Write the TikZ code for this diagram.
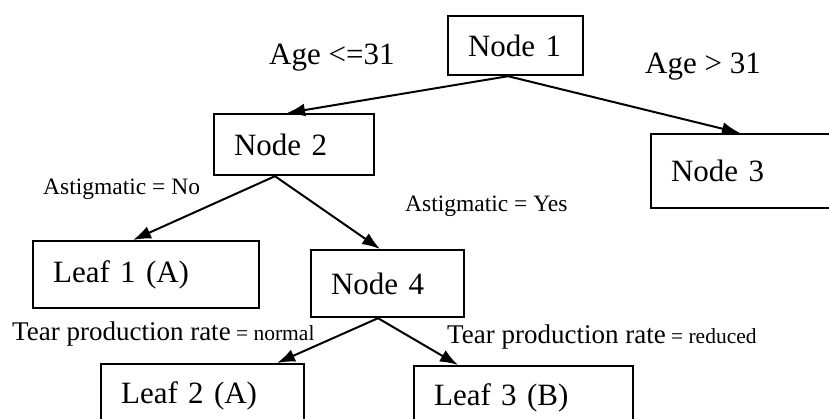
\documentclass[tikz,border=0pt]{standalone}
\usepackage{fontspec}
\setmainfont{Liberation Serif}
\usetikzlibrary{arrows.meta}
\tikzset{
  box/.style={draw, line width=2.2pt, anchor=north west, inner ysep=0pt, inner xsep=20pt, align=left, font=\fontsize{31}{36}\selectfont},
  edge/.style={line width=2pt, -{Latex[length=18pt,width=13pt]}},
  lbl/.style={anchor=base west, inner sep=0pt},
}
\begin{document}
\begin{tikzpicture}[x=1pt,y=-1pt]
            \useasboundingbox (0,0) rectangle (829,419);
            \clip (0,0) rectangle (829,419);
            \node[box, text width=95pt, minimum height=59pt] (n1) at (447,15) {Node 1};
            \node[box, text width=120pt, minimum height=61pt] (n2) at (213,113) {Node 2};
            \node[box, text width=170pt, minimum height=74pt] (n3) at (650,133) {Node 3};
            \node[box, text width=186pt, minimum height=67pt] (leaf1) at (32,240) {Leaf 1 (A)};
            \node[box, text width=113pt, minimum height=67pt] (n4) at (310,249) {Node 4};
            \node[box, text width=163pt, minimum height=64pt] (leaf2) at (100,363) {Leaf 2 (A)};
            \node[box, text width=179pt, minimum height=64pt] (leaf3) at (413,365) {Leaf 3 (B)};
            \draw[edge] ([xshift=61pt]n1.south west) -- ([xshift=74pt]n2.north west);
            \draw[edge] ([xshift=61pt]n1.south west) -- ([xshift=90pt]n3.north west);
            \draw[edge] ([xshift=62pt]n2.south west) -- ([xshift=101pt]leaf1.north west);
            \draw[edge] ([xshift=62pt]n2.south west) -- ([xshift=70pt]n4.north west);
            \draw[edge] ([xshift=68pt]n4.south west) -- ([xshift=177pt]leaf2.north west);
            \draw[edge] ([xshift=68pt]n4.south west) -- ([xshift=45pt]leaf3.north west);
            \node[lbl, font=\fontsize{31}{36}\selectfont] (agele) at (269,65) {Age <=31};
            \node[lbl, font=\fontsize{31}{36}\selectfont] (agegt) at (645,74) {Age > 31};
            \node[lbl, font=\fontsize{23.5}{28}\selectfont] (astno) at (43,195) {Astigmatic = No};
            \node[lbl, font=\fontsize{23.5}{28}\selectfont] (astyes) at (405,212) {Astigmatic = Yes};
            \node[lbl, font=\fontsize{21.5}{26}\selectfont] (tearnormal) at (12,340) {{\fontsize{27}{32}\selectfont Tear production rate} = normal};
            \node[lbl, font=\fontsize{21.5}{26}\selectfont] (tearreduced) at (447,343) {{\fontsize{27}{32}\selectfont Tear production rate} = reduced};
        \end{tikzpicture}
\end{document}
